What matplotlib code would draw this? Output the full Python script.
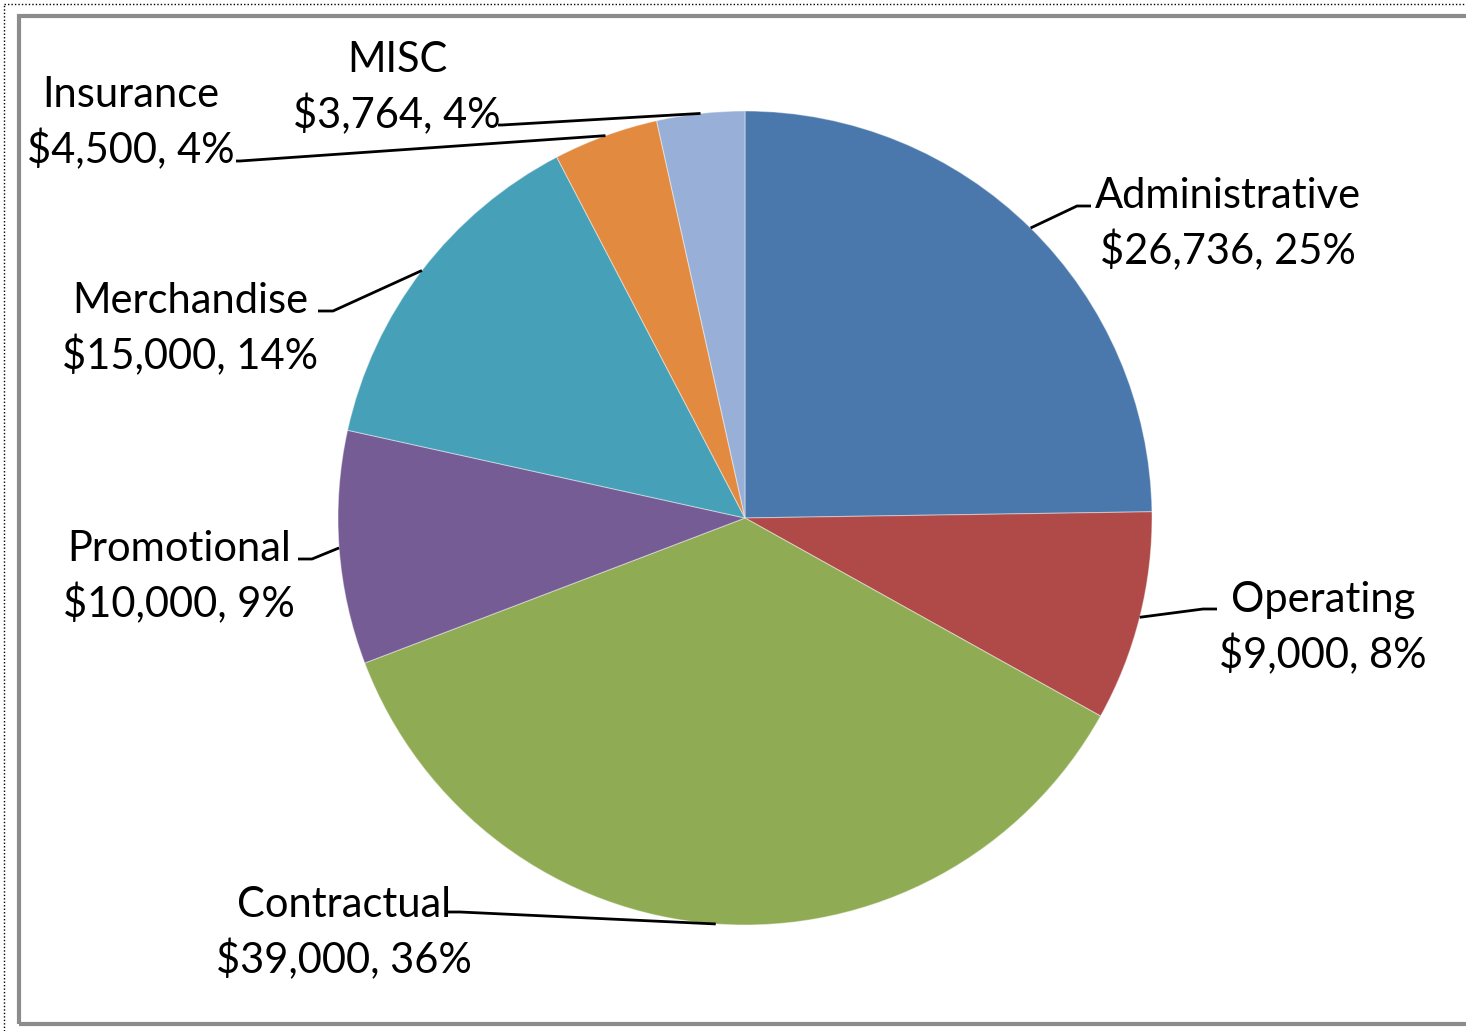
import numpy as np
import matplotlib.pyplot as plt
from matplotlib.patches import Rectangle

categories = ['Administrative', 'Operating', 'Contractual', 'Promotional',
              'Merchandise', 'Insurance', 'MISC']
amounts = [26736, 9000, 39000, 10000, 15000, 4500, 3764]
percents = [25, 8, 36, 9, 14, 4, 4]   # as printed on the chart
colors = ['#4A78AC', '#B04A48', '#8FAC54', '#765C94', '#46A0B8', '#E38A41', '#98B0D7']

# layout (pixels, y measured from the top of the image)
W, H = 1466, 1031
center_px = (745, 518)
radius_px = 407
label_pos = [(1228, 224), (1323, 628), (344, 933), (179, 577),
             (190, 329), (131, 123), (397, 88)]
elbow_a = [(1077, 206), (1203, 609), (460, 912), (312, 559),
           (333, 311), (240, 161), (502, 125)]
elbow_b = [(1091, 206), (1217, 609), (448, 912), (298, 559),
           (318, 311), (236, 161), (498, 125)]

plt.rcParams['font.family'] = ['Lato', 'DejaVu Sans']

def px(x, y):
    return x, H - y

fig = plt.figure(figsize=(W / 100, H / 100), dpi=100)
ax = fig.add_axes([0, 0, 1, 1])

cx, cy = px(*center_px)
wedges, _ = ax.pie(amounts, colors=colors, startangle=90, counterclock=False,
                   center=(cx, cy), radius=radius_px,
                   wedgeprops=dict(linewidth=0.8, edgecolor=(1, 1, 1, 0.4)))

for i, w in enumerate(wedges):
    mid = np.deg2rad((w.theta1 + w.theta2) / 2)
    x0 = cx + radius_px * np.cos(mid)
    y0 = cy + radius_px * np.sin(mid)
    xa, ya = px(*elbow_a[i])
    xb, yb = px(*elbow_b[i])
    ax.plot([x0, xa, xb], [y0, ya, yb], color='black', lw=2, solid_capstyle='butt')
    tx, ty = px(*label_pos[i])
    ax.text(tx, ty, f'{categories[i]}\n${amounts[i]:,}, {percents[i]}%',
            ha='center', va='center', fontsize=30, linespacing=1.42, color='black')

# chart frame
ax.add_patch(Rectangle(px(19, 1024), 1460, 1008, fill=False,
                       edgecolor='#8C8C8C', lw=3))
ax.plot([4, 4], [0, H - 4], color='black', lw=1, ls=(0, (1, 1.5)))
ax.plot([4, W], [H - 4, H - 4], color='black', lw=1, ls=(0, (1, 1.5)))

ax.set_xlim(0, W)
ax.set_ylim(0, H)
ax.set_aspect('equal')
ax.axis('off')

plt.savefig('out.png', dpi=100)
